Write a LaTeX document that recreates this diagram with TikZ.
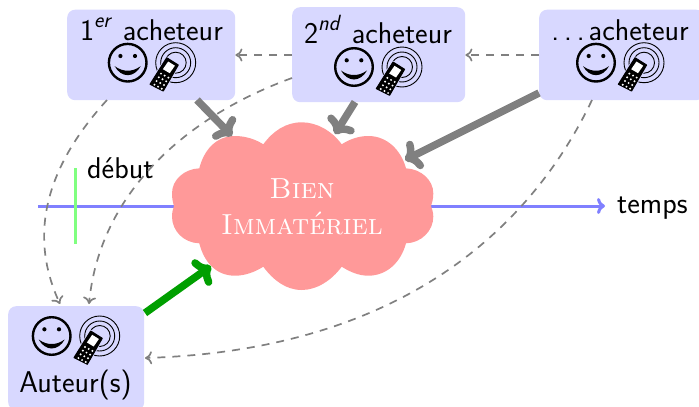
\documentclass[tikz,border=0pt]{standalone}
\usepackage{fontspec}
\usetikzlibrary{arrows.meta}
\definecolor{boxblue}{HTML}{D8D8FF}
\definecolor{cloudred}{HTML}{FF9999}
\definecolor{timeblue}{HTML}{8080FF}
\definecolor{startgreen}{HTML}{80FF80}
\definecolor{authgreen}{HTML}{009F00}
\tikzset{
  actorbox/.style={fill=boxblue,rounded corners=8pt,inner sep=0pt,anchor=north west},
  lbl/.style={font=\sffamily\fontsize{30}{34}\selectfont,inner sep=0pt,anchor=base,text=black},
  bigtip/.style={-{Computer Modern Rightarrow[length=15pt,width=31pt,round]}},
  buy/.style={draw=gray,line width=7.5pt,bigtip},
  make/.style={draw=authgreen,line width=7.5pt,bigtip},
  pass/.style={draw=gray,line width=1.7pt,dash pattern=on 8pt off 7pt,-{Computer Modern Rightarrow[length=7pt,width=13pt]}},
}
\newcommand{\facephone}[2]{%
  \begin{scope}[shift={(#1,#2)}]
    % smiley
    \draw[line width=2.4pt] (-24,0) circle (18.8pt);
    \fill (-31.3,-6.7) circle (2.1pt) (-16.7,-6.7) circle (2.1pt);
    \fill (-37,3.5) .. controls (-32,7) and (-28,8) .. (-24,8)
      .. controls (-20,8) and (-16,7) .. (-11,3.5)
      .. controls (-14,9) and (-19,12.5) .. (-24,12.5)
      .. controls (-29,12.5) and (-34,9) .. (-37,3.5) -- cycle;
    % waves
    \draw[line width=.9pt] (24,0) circle (20pt);
    \draw[line width=.9pt] (24,0) circle (15pt);
    \draw[line width=.9pt] (24,0) circle (10.5pt);
    % phone
    \fill[boxblue,draw=boxblue,line width=2.5pt,line join=round] (15,-5) -- (26.6,2.3) -- (11.6,28.3) -- (-1.7,21.6) -- cycle;
    \fill[line join=round,draw=black,line width=1pt] (15,-5) -- (26.6,2.3) -- (11.6,28.3) -- (-1.7,21.6) -- cycle;
    \fill[white] (16.5,-1.2) -- (23.2,3) -- (18,10.5) -- (11.2,6.5) -- cycle;
    \foreach \i in {0,1,2,3} \foreach \j in {0,1,2}
      \fill[white] ({9.3+\j*3.7-\i*2.2},{10.9+\j*2+\i*3.7}) circle (1.1pt);
  \end{scope}}
\begin{document}
\begin{tikzpicture}[x=1pt,y=-1pt]
\useasboundingbox (0,0) rectangle (699,407);
% boxes
\node[actorbox,minimum width=168pt,minimum height=90.5pt] (b1) at (67,9.5) {};
\node[actorbox,minimum width=173pt,minimum height=95pt] (b2) at (292,7) {};
\node[actorbox,minimum width=165pt,minimum height=90.5pt] (b3) at (539,9.5) {};
\node[actorbox,minimum width=136pt,minimum height=104pt] (au) at (8,306) {};
% timeline
\coordinate (tstart) at (38,206);
\node[lbl,anchor=base west] (temps) at (617,213) {temps};
\draw[draw=timeblue,line width=3pt,-{Computer Modern Rightarrow[length=8pt,width=16pt]}] (tstart) -- (605,206) coordinate (tend);
\coordinate (gtop) at (75.5,168);
\coordinate (gbot) at (75.5,244);
\draw[startgreen,line width=3.5pt] (gtop) -- (gbot);
\node[lbl,anchor=base west] (debut) at (87,178) {début};
% cloud
\fill[cloudred] (199.3,168.3)
  .. controls (204,150) and (216,136) .. (235,136)
  .. controls (245,136) and (255,139) .. (263.3,144.3)
  .. controls (273,131) and (286,122.3) .. (301.7,122.3)
  .. controls (317,122.3) and (332,131) .. (341.7,144.3)
  .. controls (350,139) and (359,136) .. (368.3,136)
  .. controls (387,136) and (401,150) .. (406,168.3)
  .. controls (421,169) and (433.3,180) .. (433.3,193.3)
  .. controls (433.3,199) and (432,203) .. (431,206)
  .. controls (432,209) and (433.3,212) .. (433.3,216.7)
  .. controls (433.3,231) and (421,243) .. (406,243.3)
  .. controls (401,262) and (387,275.7) .. (368.3,275.7)
  .. controls (359,275.7) and (350,272) .. (341.7,266.7)
  .. controls (332,280) and (317,290) .. (301.7,290)
  .. controls (286,290) and (273,280) .. (263.3,266.7)
  .. controls (255,272) and (245,275.7) .. (235,275.7)
  .. controls (216,275.7) and (204,262) .. (199.3,243.3)
  .. controls (184,243) and (172,231) .. (172,216.7)
  .. controls (172,212) and (173,209) .. (174,206)
  .. controls (173,203) and (172,199) .. (172,193.3)
  .. controls (172,180) and (184,169) .. (199.3,168.3) -- cycle;
\node[inner sep=0pt,text=white,font=\fontsize{29}{36}\selectfont,anchor=base] (bien) at (302,198) {\textsc{Bien}};
\node[inner sep=0pt,text=white,font=\fontsize{29}{36}\selectfont,anchor=base] (imm) at (302,234) {\textsc{Immatériel}};
\coordinate (c1) at (232,136);
\coordinate (c2) at (335,134);
\coordinate (c3) at (405,160);
\coordinate (c4) at (211,266);
% box contents
\node[lbl] (t1) at (151.5,40) {1\raisebox{.42em}{\fontsize{22}{24}\selectfont\itshape er}\kern3pt\ acheteur};
\node[lbl] (t2) at (378,43) {2\raisebox{.42em}{\fontsize{22}{24}\selectfont\itshape nd}\kern3pt\ acheteur};
\node[lbl] (t3) at (620,40) {.\kern5pt.\kern5pt.\kern4pt acheteur};
\node[lbl] (t4) at (75.5,392) {Auteur(s)};
\facephone{151.7}{62.7}
\facephone{378}{67}
\facephone{620}{62.7}
\facephone{75.7}{336}
% connectors
\coordinate (p1) at (197,100);
\coordinate (p2) at (355,102);
\coordinate (p3) at (539,93);
\coordinate (p4) at (145,313);
\draw[buy] (p1) -- (c1);
\draw[buy] (p2) -- (c2);
\draw[buy] (p3) -- (c3);
\draw[make] (p4) -- (c4);
\coordinate (d1) at (107,100);
\coordinate (d2) at (292,78);
\coordinate (d3) at (592,100);
\draw[pass] (b2.west |- 0,55) -- (b1.east |- 0,55);
\draw[pass] (b3.west |- 0,55) -- (b2.east |- 0,55);
\draw[pass] (d1) .. controls (25,190) and (40,260) .. (60,304);
\draw[pass] (d2) .. controls (190,115) and (100,190) .. (89,304);
\draw[pass] (d3) .. controls (530,230) and (400,350) .. (145,358);
\end{tikzpicture}
\end{document}
